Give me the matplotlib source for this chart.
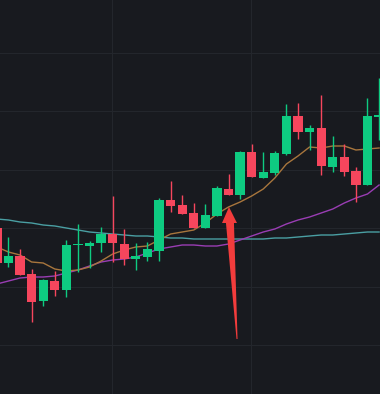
import numpy as np
import matplotlib
matplotlib.use('Agg')
import matplotlib.pyplot as plt
from matplotlib.patches import Polygon

# candle data (open, high, low, close)
opens = [17.2, 13.7, 14.4, 12.6, 9.9, 11.9, 11.0, 15.5, 15.4, 15.7, 16.6, 15.6,
         14.1, 14.3, 14.9, 20.0, 19.5, 18.7, 17.2, 18.4, 21.1, 20.5, 24.8, 22.2,
         22.7, 24.6, 28.4, 26.8, 27.2, 23.3, 24.3, 22.9, 21.5, 28.3]
highs = [17.5, 16.3, 15.1, 13.1, 12.1, 12.9, 16.0, 17.6, 15.9, 17.3, 20.4, 17.1,
         15.7, 15.8, 20.2, 21.9, 20.5, 19.7, 19.6, 21.4, 22.6, 24.9, 25.6, 24.8,
         24.9, 29.6, 29.7, 27.5, 30.5, 26.4, 25.6, 23.3, 30.2, 32.2]
lows = [13.4, 13.3, 12.5, 7.8, 9.4, 10.4, 10.3, 12.8, 13.2, 14.8, 13.8, 13.5,
        13.0, 13.9, 13.9, 18.8, 18.6, 17.2, 17.2, 18.4, 20.5, 20.1, 22.3, 22.2,
        22.5, 24.5, 26.1, 25.0, 22.5, 22.8, 22.4, 19.8, 21.5, 26.0]
closes = [13.7, 14.4, 12.5, 9.8, 12.0, 11.0, 15.5, 15.6, 15.7, 16.6, 15.7, 14.1,
          14.4, 15.1, 20.0, 19.4, 18.6, 17.2, 18.5, 21.2, 20.5, 24.8, 22.3, 22.8,
          24.7, 28.4, 26.8, 27.2, 23.4, 24.3, 22.8, 21.5, 28.4, 28.5]

# moving averages
ma_short = [15.3, 14.8, 14.5, 13.8, 13.7, 13.1, 12.9, 13.0, 13.3, 13.9, 14.6, 15.0,
            15.3, 15.4, 16.0, 16.6, 16.8, 17.0, 17.7, 18.6, 19.3, 19.8, 20.4, 21.1,
            22.2, 23.6, 24.4, 25.3, 25.2, 25.4, 25.4, 25.0, 25.1, 25.2]
ma_mid = [11.6, 11.9, 12.2, 12.3, 12.3, 12.4, 12.7, 13.0, 13.4, 13.8, 14.0, 14.1,
          14.3, 14.7, 15.1, 15.3, 15.5, 15.5, 15.4, 15.4, 15.6, 16.0, 16.4, 16.8,
          17.1, 17.6, 18.0, 18.3, 18.7, 19.1, 19.7, 20.2, 20.6, 21.5]
ma_long = [18.1, 18.0, 17.8, 17.7, 17.5, 17.4, 17.2, 17.0, 16.8, 16.7, 16.6, 16.5,
           16.4, 16.4, 16.3, 16.2, 16.2, 16.1, 16.1, 16.1, 16.1, 16.1, 16.1, 16.1,
           16.2, 16.2, 16.3, 16.4, 16.5, 16.5, 16.6, 16.7, 16.8, 16.8]

bg = '#181a1f'
up = '#0ecb81'
down = '#f6465d'

o = np.array(opens)
c = np.array(closes)
h = np.array(highs)
l = np.array(lows)
x = np.arange(len(o))
colors = np.where(c >= o, up, down)

fig = plt.figure(figsize=(3.8, 3.94), dpi=100, facecolor=bg)
ax = fig.add_axes([0, 0, 1, 1])
ax.set_facecolor(bg)

# grid
ax.set_xticks([9.94, 21.94])
ax.set_yticks(np.arange(5.5, 40, 5.84))
ax.grid(True, color='#23262c', lw=0.8)
ax.set_axisbelow(True)

# moving averages
ax.plot(x, ma_long, color='#4a9fa3', lw=1.0, zorder=2)
ax.plot(x, ma_mid, color='#9a3db4', lw=1.0, zorder=2)
ax.plot(x, ma_short, color='#a8763d', lw=1.0, zorder=2)

# candles
ax.vlines(x, l, h, colors=colors, lw=1.0, zorder=3)
body = np.maximum(np.abs(c - o), 0.12)
ax.bar(x, body, bottom=np.minimum(o, c), width=0.8, color=colors, lw=0, zorder=3)

# arrow annotation
arrow = Polygon([(20.04, 19.3), (20.73, 17.7), (20.47, 17.7), (20.78, 6.1),
                 (20.69, 6.1), (19.78, 17.7), (19.44, 17.7)],
                closed=True, facecolor='#f23c3c', edgecolor='none', zorder=4)
ax.add_patch(arrow)

ax.set_xlim(0.27, 33.08)
ax.set_ylim(0.6, 40.0)
ax.tick_params(left=False, bottom=False, labelleft=False, labelbottom=False)
for s in ax.spines.values():
    s.set_visible(False)

fig.savefig('out.png', dpi=100, facecolor=bg)
